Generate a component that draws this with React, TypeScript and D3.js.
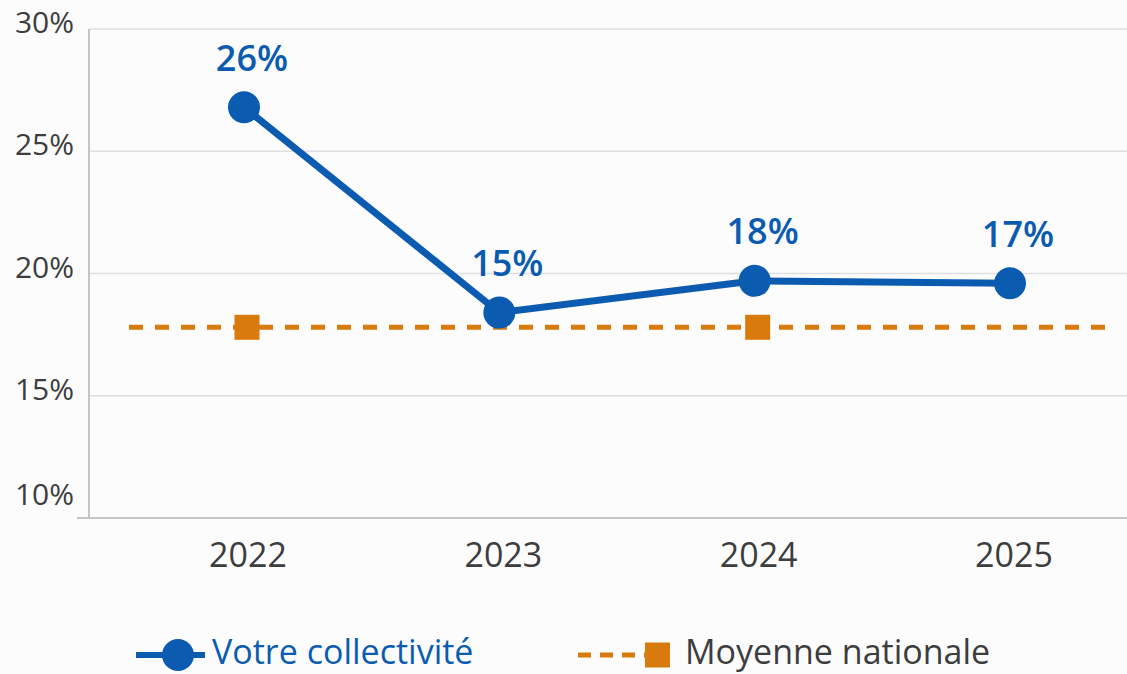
import React from "react";
import * as d3 from "d3";

const years = ["2022", "2023", "2024", "2025"];
const collectiviteValues = [26.8, 18.4, 19.7, 19.6];
const collectiviteLabels = ["26%", "15%", "18%", "17%"];
const nationaleValue = 17.8;
const nationaleMarkerYears = ["2022", "2024"];
const yTicks = [10, 15, 20, 25, 30];
const legendItems = ["Votre collectivité", "Moyenne nationale"];

const W = 1127;
const H = 674;
const BLUE = "#0b5cb0";
const ORANGE = "#d97a0c";
const TEXT = "#3d3d3d";
const FONT = "'Open Sans', 'Noto Sans', sans-serif";

export default function App() {
  const left = 89;
  const right = W;
  const top = 29;
  const bottom = 518;

  const x = d3.scalePoint<string>().domain(years).range([244, 1010]);
  const y = d3.scaleLinear().domain([10, 30]).range([bottom, top]);

  const line = d3
    .line<number>()
    .x((_, i) => x(years[i]) as number)
    .y((d) => y(d));

  const natY = y(nationaleValue);

  return (
    <div style={{ position: "fixed", left: 0, top: 0, width: W, height: H }}>
      <svg width={W} height={H} style={{ display: "block", background: "#fcfcfd" }} fontFamily={FONT}>
        {yTicks.slice(1).map((t) => (
          <line key={t} x1={left} x2={right} y1={y(t)} y2={y(t)} stroke="#dedfe2" strokeWidth={1.5} />
        ))}
        <line x1={left} x2={left} y1={top} y2={bottom} stroke="#c4c5c8" strokeWidth={2} />
        <line x1={77} x2={right} y1={bottom} y2={bottom} stroke="#c4c5c8" strokeWidth={2} />
        {yTicks.map((t) => (
          <text
            key={t}
            x={74}
            y={y(t) - (t === 10 ? 21 : 4)}
            textAnchor="end"
            dominantBaseline="middle"
            fontSize={30}
            fill={TEXT}
          >
            {t}%
          </text>
        ))}
        {years.map((yr) => (
          <text key={yr} x={(x(yr) as number) + 4} y={558} textAnchor="middle" dominantBaseline="middle" fontSize={34} fill={TEXT}>
            {yr}
          </text>
        ))}
        <line
          x1={129}
          x2={1115}
          y1={natY}
          y2={natY}
          stroke={ORANGE}
          strokeWidth={5}
          strokeDasharray="14 12"
        />
        {nationaleMarkerYears.map((yr) => (
          <rect key={yr} x={(x(yr) as number) + 3 - 12.5} y={natY - 12.5} width={25} height={25} fill={ORANGE} />
        ))}
        <path d={line(collectiviteValues) || ""} fill="none" stroke={BLUE} strokeWidth={7} strokeLinejoin="round" />
        {collectiviteValues.map((v, i) => (
          <circle key={i} cx={x(years[i]) as number} cy={y(v)} r={16} fill={BLUE} />
        ))}
        {collectiviteValues.map((v, i) => (
          <text
            key={i}
            x={(x(years[i]) as number) + 8}
            y={y(v) - 46}
            textAnchor="middle"
            dominantBaseline="middle"
            fontSize={36}
            fontWeight={600}
            fill={BLUE}
          >
            {collectiviteLabels[i]}
          </text>
        ))}
        <g>
          <line x1={136} x2={205} y1={655} y2={655} stroke={BLUE} strokeWidth={6} />
          <circle cx={178} cy={655} r={16} fill={BLUE} />
          <text x={212} y={655} dominantBaseline="middle" fontSize={34} fill={BLUE}>
            {legendItems[0]}
          </text>
          <line x1={578} x2={646} y1={655} y2={655} stroke={ORANGE} strokeWidth={5} strokeDasharray="13 9" />
          <rect x={645} y={642.5} width={25} height={25} fill={ORANGE} />
          <text x={685} y={655} dominantBaseline="middle" fontSize={34} fill={TEXT}>
            {legendItems[1]}
          </text>
        </g>
      </svg>
    </div>
  );
}
